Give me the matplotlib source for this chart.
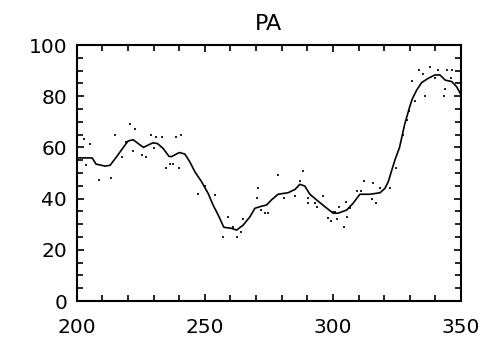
import matplotlib
matplotlib.use("Agg")
import matplotlib.pyplot as plt
from matplotlib.ticker import MultipleLocator

# smoothed curve
line_x = [200, 206, 207.5, 211, 213, 216, 220, 222, 224, 226, 229.7, 231.5, 233.7,
          236, 237, 240, 242.2, 244.1, 246.1, 248.7, 251.3, 253.2, 255.2, 257.4,
          260.4, 262.4, 265, 267.6, 269.5, 272, 274.1, 276, 278.6, 282.5, 285.2,
          287.1, 289, 291, 293.6, 296.9, 300.1, 302, 305.3, 307.9, 310.5, 314.5,
          318.4, 320.3, 321.6, 323, 324.2, 326, 328, 330, 331, 332.7, 334.6, 337.2,
          339.8, 341.8, 343.8, 346.4, 348.3, 350]
line_y = [55.9, 55.9, 53.5, 52.7, 53, 57, 62.5, 63, 61.5, 60, 61.8, 61.5, 59.6,
          56.5, 56.4, 58, 57.4, 54.4, 50.5, 46.6, 42, 37.5, 33.6, 28.8,
          28.4, 27.7, 29.7, 32.9, 36.2, 37, 37.5, 39.5, 41.7, 42.3, 43.6,
          45.6, 44.9, 41.7, 39.5, 36.8, 34.3, 34.3, 35.5, 38.2, 41.7, 41.7,
          42.3, 44, 46.6, 51.2, 55.1, 60, 69, 76, 79, 82.4, 85.3, 87,
          88.3, 88.3, 86.3, 85.7, 83.7, 80.5]

# raw points
pts_x = [202.9, 205, 203.6, 208.8, 213.2, 214.8, 217.7, 219.4, 220.7, 222.9, 222,
         225.3, 227.2, 228.8, 230.2, 230.9, 233.1, 234.8, 236.3, 237.6, 238.9, 240,
         240.6, 247.4, 250, 253.9, 259.1, 257.2, 262.4, 261, 265, 264.3, 270.8,
         270.2, 271.9, 273.4, 274.7, 278.4, 281, 285.2, 287.1, 288.4, 290.4, 290.4,
         293, 293.6, 296.2, 298.2, 299.1, 299.9, 300.8, 301.7, 302.5, 304.3, 305,
         305.6, 306.6, 309.2, 310.8, 312.2, 315.7, 315.1, 316.7, 318.4, 322.3,
         324.5, 327.5, 328.8, 329.8, 330.7, 332, 333.6, 335.3, 335.9, 337.9, 339.8,
         341.1, 343.5, 343.8, 344.4, 346.1, 346.4, 349.2]
pts_y = [63.2, 61.2, 53.3, 47.3, 47.9, 64.8, 56.4, 62.2, 69, 67, 58.6,
         57, 56.4, 64.8, 59.9, 64.2, 64.2, 52.1, 53.4, 53.4, 64.2, 52.1,
         64.8, 41.7, 44.9, 41.4, 32.9, 24.9, 24.9, 29, 32, 27.1, 44,
         40.1, 35.5, 34.3, 34.3, 49.2, 40.1, 41, 47, 50.9, 40.1, 38.2,
         38.2, 36.8, 41, 32.3, 31.4, 34.9, 34.9, 31.9, 36.8, 29, 38.5,
         32.7, 36.2, 43, 43, 47, 46, 39.7, 38.2, 44, 44.3,
         52, 65, 70.7, 74.3, 85.9, 78.1, 90.2, 88.5, 80.1, 91.5, 87,
         90.2, 80.1, 82.7, 90.2, 87.2, 90.2, 85]

fig = plt.figure(figsize=(4.86, 3.40), dpi=100)
ax = fig.add_axes([0.158, 0.1147, 0.7906, 0.7529])

ax.plot(pts_x, pts_y, linestyle='none', marker='s', markersize=1.6,
        color='#222222', markeredgewidth=0)
ax.plot(line_x, line_y, color='black', linewidth=1.2)

ax.set_xlim(200, 350)
ax.set_ylim(0, 100)
ax.xaxis.set_major_locator(MultipleLocator(50))
ax.xaxis.set_minor_locator(MultipleLocator(10))
ax.yaxis.set_major_locator(MultipleLocator(20))
ax.yaxis.set_minor_locator(MultipleLocator(5))
ax.tick_params(which='both', direction='in', top=True, right=True, width=1.2)
ax.tick_params(which='major', length=5)
ax.tick_params(which='minor', length=4)
ax.tick_params(axis='x', which='major', pad=12, labelsize=14.5)
ax.tick_params(axis='y', which='major', pad=7, labelsize=14.5)
for s in ax.spines.values():
    s.set_linewidth(1.5)

ax.set_title("PA", fontsize=16, pad=11)

fig.savefig("out.png", dpi=100)
